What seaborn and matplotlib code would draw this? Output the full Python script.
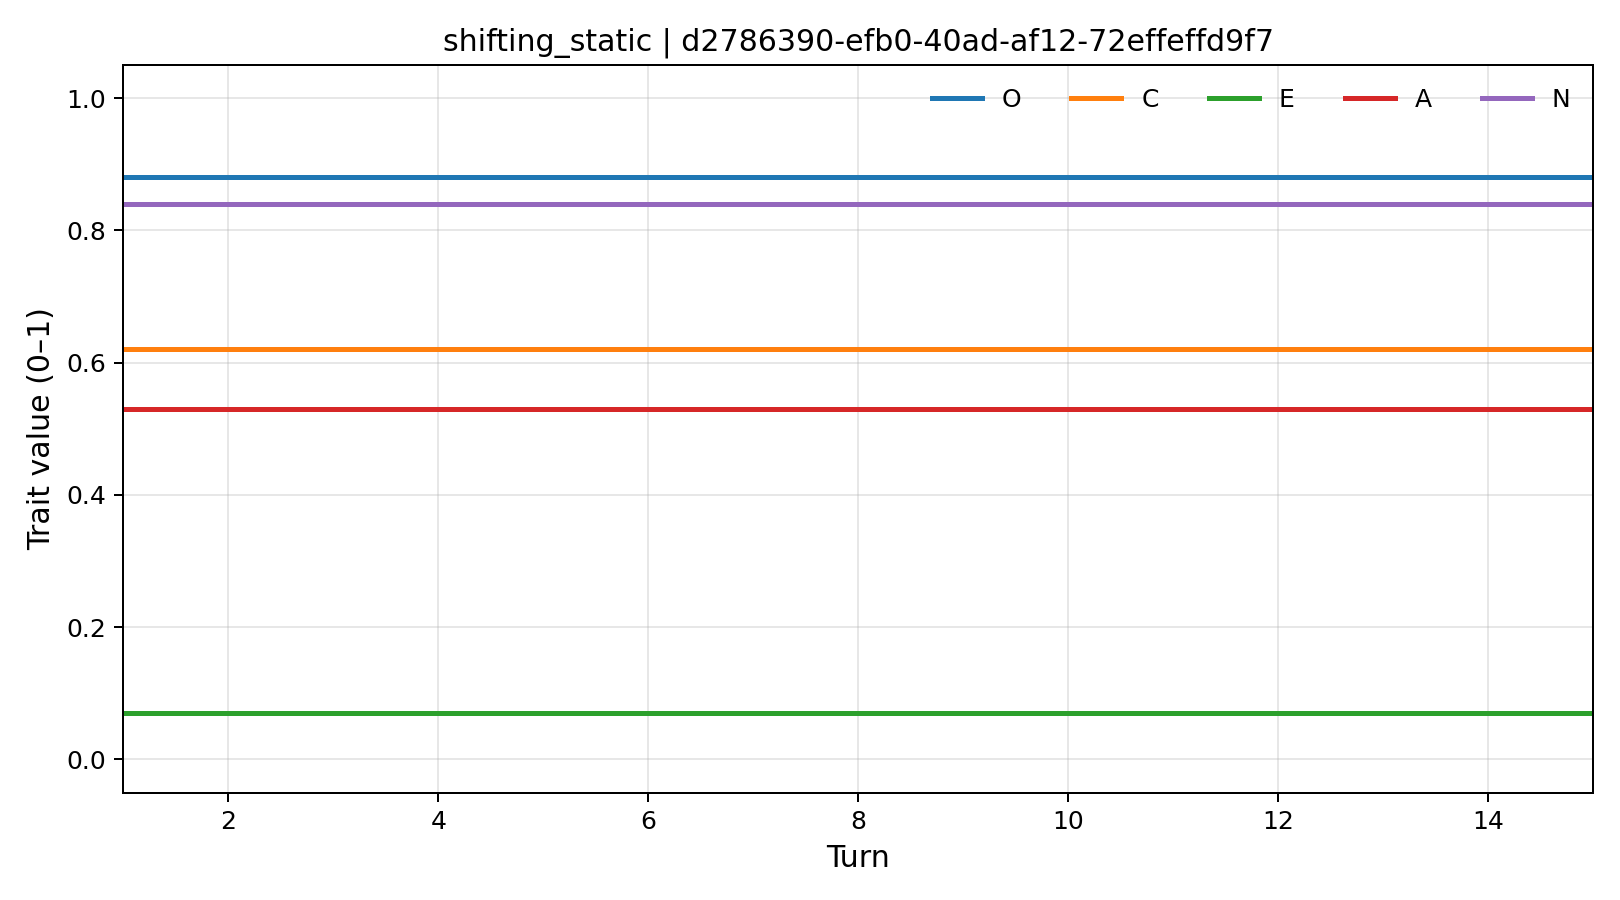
import matplotlib
matplotlib.use("Agg")
import matplotlib.pyplot as plt
import seaborn as sns
import pandas as pd

# Data
turns = list(range(1, 16))
traits = ["O", "C", "E", "A", "N"]
trait_values = [0.88, 0.62, 0.07, 0.53, 0.84]

# Long-format table
df = pd.DataFrame(
    [(t, name, val) for name, val in zip(traits, trait_values) for t in turns],
    columns=["turn", "trait", "value"],
)

plt.rcParams["font.family"] = ["DejaVu Sans"]

fig, ax = plt.subplots(figsize=(9, 5), dpi=180)
sns.lineplot(data=df, x="turn", y="value", hue="trait", hue_order=traits,
             palette="tab10", linewidth=2, ax=ax)

ax.set_xlim(1, 15)
ax.set_ylim(-0.05, 1.05)
ax.grid(True, alpha=0.3)
ax.set_xlabel("Turn", fontsize=12)
ax.set_ylabel("Trait value (0–1)", fontsize=12)
ax.set_title("shifting_static | d2786390-efb0-40ad-af12-72effeffd9f7", fontsize=12)
ax.legend(loc="upper right", ncol=5, frameon=False)

fig.tight_layout()
fig.savefig("out.png")
